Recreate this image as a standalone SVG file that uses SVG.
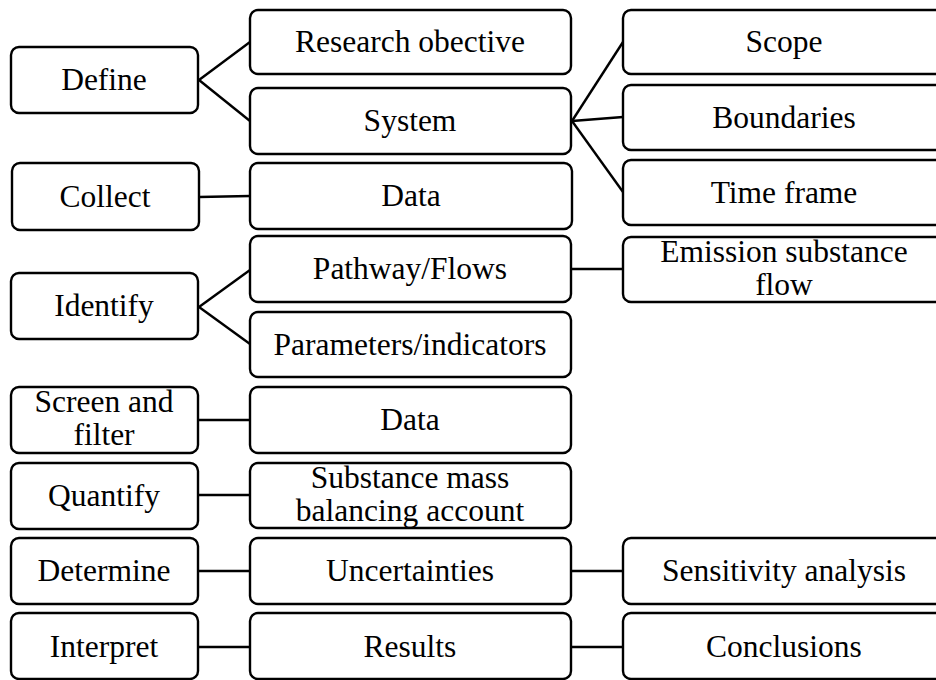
<svg xmlns="http://www.w3.org/2000/svg" width="936" height="680" viewBox="0 0 936 680">
<style>
.b{fill:#fff;stroke:#000;stroke-width:2.4}
.t{font-size:31.5px;fill:#000;text-anchor:middle}
.c line{stroke:#000;stroke-width:2.4}
</style>
<rect width="936" height="680" fill="#fff"/>
<g class="c" id="connectors">
<line x1="199" y1="80" x2="250" y2="42"/>
<line x1="199" y1="80" x2="250" y2="121"/>
<line x1="572" y1="121" x2="623" y2="42"/>
<line x1="572" y1="121" x2="623" y2="117"/>
<line x1="572" y1="121" x2="623" y2="192"/>
<line x1="199" y1="197" x2="250" y2="196"/>
<line x1="199" y1="307" x2="250" y2="270"/>
<line x1="199" y1="307" x2="250" y2="344"/>
<line x1="571" y1="269" x2="623" y2="269"/>
<line x1="199" y1="420" x2="250" y2="420"/>
<line x1="199" y1="495" x2="250" y2="495"/>
<line x1="199" y1="571" x2="250" y2="571"/>
<line x1="571" y1="571" x2="623" y2="571"/>
<line x1="199" y1="647" x2="250" y2="647"/>
<line x1="571" y1="647" x2="623" y2="647"/>
</g>
<g font-family="'Liberation Serif', 'DejaVu Serif', serif">
<g id="define"><rect class="b" x="11" y="47" width="187" height="66" rx="8"/><text class="t" x="104" y="90">Define</text></g>
<g id="research"><rect class="b" x="250" y="10" width="321" height="64" rx="8"/><text class="t" x="410" y="52">Research obective</text></g>
<g id="system"><rect class="b" x="250" y="88" width="321" height="66" rx="8"/><text class="t" x="410" y="131">System</text></g>
<g id="scope"><rect class="b" x="623" y="10" width="330" height="64" rx="8"/><text class="t" x="784" y="52">Scope</text></g>
<g id="boundaries"><rect class="b" x="623" y="85" width="330" height="65" rx="8"/><text class="t" x="784" y="128">Boundaries</text></g>
<g id="timeframe"><rect class="b" x="623" y="160" width="330" height="65" rx="8"/><text class="t" x="784" y="203">Time frame</text></g>
<g id="collect"><rect class="b" x="12" y="163" width="187" height="67" rx="8"/><text class="t" x="105" y="207">Collect</text></g>
<g id="data1"><rect class="b" x="250" y="163" width="322" height="66" rx="8"/><text class="t" x="411" y="206">Data</text></g>
<g id="identify"><rect class="b" x="11" y="273" width="187" height="66" rx="8"/><text class="t" x="104" y="316">Identify</text></g>
<g id="pathway"><rect class="b" x="250" y="236" width="321" height="66" rx="8"/><text class="t" x="410" y="279">Pathway/Flows</text></g>
<g id="parameters"><rect class="b" x="250" y="312" width="321" height="65" rx="8"/><text class="t" x="410" y="355">Parameters/indicators</text></g>
<g id="emission"><rect class="b" x="623" y="237" width="330" height="65" rx="8"/><text class="t" x="784" y="262">Emission substance</text><text class="t" x="784" y="295">flow</text></g>
<g id="screen"><rect class="b" x="11" y="387" width="187" height="66" rx="8"/><text class="t" x="104" y="412">Screen and</text><text class="t" x="104" y="445">filter</text></g>
<g id="data2"><rect class="b" x="250" y="387" width="321" height="66" rx="8"/><text class="t" x="410" y="430">Data</text></g>
<g id="quantify"><rect class="b" x="11" y="463" width="187" height="66" rx="8"/><text class="t" x="104" y="506">Quantify</text></g>
<g id="substance"><rect class="b" x="250" y="463" width="321" height="65" rx="8"/><text class="t" x="410" y="488">Substance mass</text><text class="t" x="410" y="521">balancing account</text></g>
<g id="determine"><rect class="b" x="11" y="538" width="187" height="66" rx="8"/><text class="t" x="104" y="581">Determine</text></g>
<g id="uncertainties"><rect class="b" x="250" y="538" width="321" height="66" rx="8"/><text class="t" x="410" y="581">Uncertainties</text></g>
<g id="sensitivity"><rect class="b" x="623" y="538" width="330" height="66" rx="8"/><text class="t" x="784" y="581">Sensitivity analysis</text></g>
<g id="interpret"><rect class="b" x="11" y="613" width="187" height="66" rx="8"/><text class="t" x="104" y="657">Interpret</text></g>
<g id="results"><rect class="b" x="250" y="613" width="321" height="66" rx="8"/><text class="t" x="410" y="657">Results</text></g>
<g id="conclusions"><rect class="b" x="623" y="613" width="330" height="66" rx="8"/><text class="t" x="784" y="657">Conclusions</text></g>
</g>
</svg>
